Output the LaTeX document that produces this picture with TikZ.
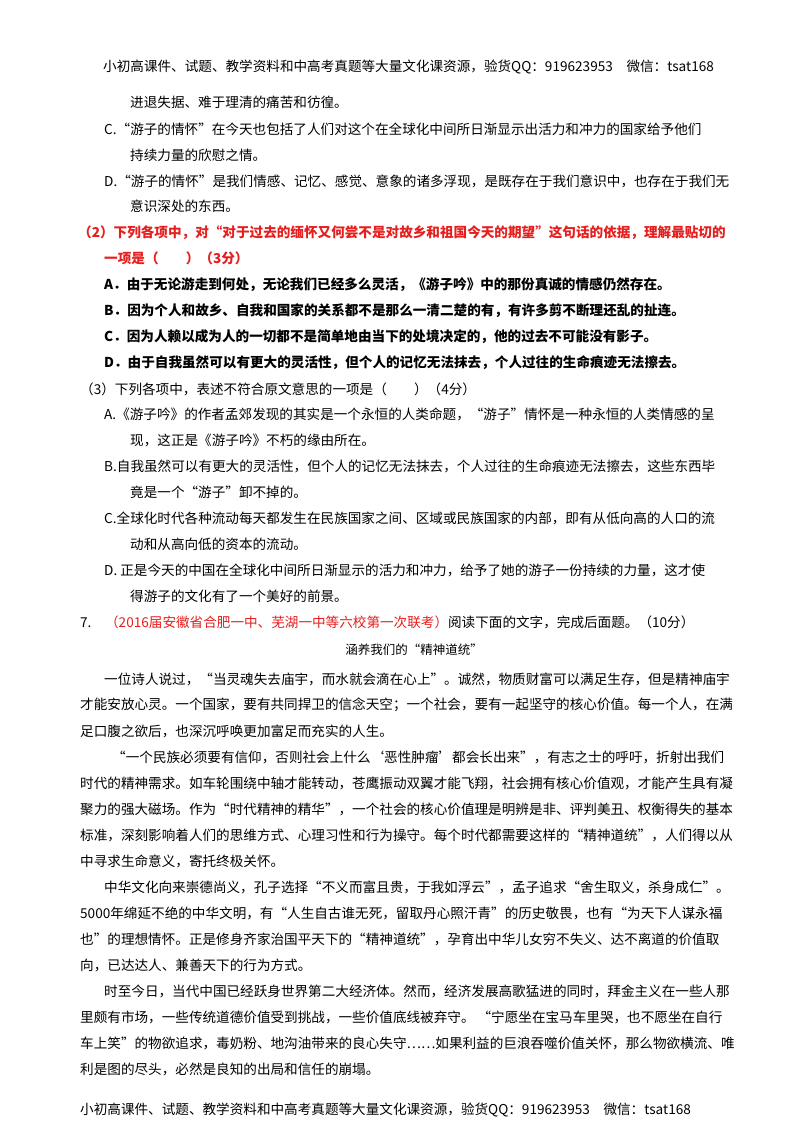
\documentclass[tikz,border=0pt]{standalone}
\usepackage{fontspec}
\setmainfont{Noto Sans CJK SC}
\definecolor{qred}{RGB}{230,30,30}
\begin{document}
\begin{tikzpicture}[x=1pt,y=-1pt,
  ln/.style={anchor=west,inner sep=0pt,font=\fontsize{13.6}{14}\selectfont},
  rl/.style={ln,text=qred,font=\fontsize{13.6}{14}\selectfont\bfseries},
  bl/.style={ln,font=\fontsize{13.6}{14}\selectfont\bfseries}]
\fill[white] (0,0) rectangle (800,1132);
\node[ln] (h) at (103,67) {小初高课件、试题、教学资料和中高考真题等大量文化课资源，验货QQ：919623953\quad 微信：tsat168};
\node[ln] (l1) at (130,102) {进退失据、难于理清的痛苦和彷徨。};
\node[ln] (l2) at (104,129) {C.“游子的情怀”在今天也包括了人们对这个在全球化中间所日渐显示出活力和冲力的国家给予他们};
\node[ln] (l3) at (130,155) {持续力量的欣慰之情。};
\node[ln] (l4) at (104,181) {D.“游子的情怀”是我们情感、记忆、感觉、意象的诸多浮现，是既存在于我们意识中，也存在于我们无};
\node[ln] (l5) at (130,206) {意识深处的东西。};
\node[rl] (l6) at (78,233) {（2）下列各项中，对“对于过去的缅怀又何尝不是对故乡和祖国今天的期望”这句话的依据，理解最贴切的};
\node[rl] (l7) at (104,258) {一项是（\quad\quad）（3分）};
\node[bl] (l8) at (104,285) {A．由于无论游走到何处，无论我们已经多么灵活，《游子吟》中的那份真诚的情感仍然存在。};
\node[bl] (l9) at (104,311) {B．因为个人和故乡、自我和国家的关系都不是那么一清二楚的有，有许多剪不断理还乱的扯连。};
\node[bl] (l10) at (104,337) {C．因为人赖以成为人的一切都不是简单地由当下的处境决定的，他的过去不可能没有影子。};
\node[bl] (l11) at (104,363) {D．由于自我虽然可以有更大的灵活性，但个人的记忆无法抹去，个人过往的生命痕迹无法擦去。};
\node[ln] (l12) at (80,389) {（3）下列各项中，表述不符合原文意思的一项是（\quad\quad）（4分）};
\node[ln] (l13) at (104,414) {A.《游子吟》的作者孟郊发现的其实是一个永恒的人类命题，“游子”情怀是一种永恒的人类情感的呈};
\node[ln] (l14) at (130,440) {现，这正是《游子吟》不朽的缘由所在。};
\node[ln] (l15) at (104,466) {B.自我虽然可以有更大的灵活性，但个人的记忆无法抹去，个人过往的生命痕迹无法擦去，这些东西毕};
\node[ln] (l16) at (130,492) {竟是一个“游子”卸不掉的。};
\node[ln] (l17) at (104,518) {C.全球化时代各种流动每天都发生在民族国家之间、区域或民族国家的内部，即有从低向高的人口的流};
\node[ln] (l18) at (130,544) {动和从高向低的资本的流动。};
\node[ln] (l19) at (104,570) {D. 正是今天的中国在全球化中间所日渐显示的活力和冲力，给予了她的游子一份持续的力量，这才使};
\node[ln] (l20) at (130,596) {得游子的文化有了一个美好的前景。};
\node[ln] (l21) at (80,622) {7.\quad{\color{qred}（2016届安徽省合肥一中、芜湖一中等六校第一次联考）}阅读下面的文字，完成后面题。（10分）};
\node[inner sep=0pt,font=\fontsize{12.5}{13}\selectfont] (t) at (414,650) {涵养我们的“精神道统”};
\node[ln] (p1) at (104,679) {一位诗人说过，“当灵魂失去庙宇，而水就会滴在心上”。诚然，物质财富可以满足生存，但是精神庙宇};
\node[ln] (p2) at (80,705) {才能安放心灵。一个国家，要有共同捍卫的信念天空；一个社会，要有一起坚守的核心价值。每一个人，在满};
\node[ln] (p3) at (80,731) {足口腹之欲后，也深沉呼唤更加富足而充实的人生。};
\node[ln] (p4) at (112,757) {“一个民族必须要有信仰，否则社会上什么‘恶性肿瘤’都会长出来”，有志之士的呼吁，折射出我们};
\node[ln] (p5) at (80,783) {时代的精神需求。如车轮围绕中轴才能转动，苍鹰振动双翼才能飞翔，社会拥有核心价值观，才能产生具有凝};
\node[ln] (p6) at (80,809) {聚力的强大磁场。作为“时代精神的精华”，一个社会的核心价值理是明辨是非、评判美丑、权衡得失的基本};
\node[ln] (p7) at (80,835) {标准，深刻影响着人们的思维方式、心理习性和行为操守。每个时代都需要这样的“精神道统”，人们得以从};
\node[ln] (p8) at (80,861) {中寻求生命意义，寄托终极关怀。};
\node[ln] (p9) at (104,887) {中华文化向来崇德尚义，孔子选择“不义而富且贵，于我如浮云”，孟子追求“舍生取义，杀身成仁”。};
\node[ln] (p10) at (80,913) {5000年绵延不绝的中华文明，有“人生自古谁无死，留取丹心照汗青”的历史敬畏，也有“为天下人谋永福};
\node[ln] (p11) at (80,939) {也”的理想情怀。正是修身齐家治国平天下的“精神道统”，孕育出中华儿女穷不失义、达不离道的价值取};
\node[ln] (p12) at (80,965) {向，已达达人、兼善天下的行为方式。};
\node[ln] (p13) at (104,991) {时至今日，当代中国已经跃身世界第二大经济体。然而，经济发展高歌猛进的同时，拜金主义在一些人那};
\node[ln] (p14) at (80,1017) {里颇有市场，一些传统道德价值受到挑战，一些价值底线被弃守。\ “宁愿坐在宝马车里哭，也不愿坐在自行};
\node[ln] (p15) at (80,1043) {车上笑”的物欲追求，毒奶粉、地沟油带来的良心失守……如果利益的巨浪吞噬价值关怀，那么物欲横流、唯};
\node[ln] (p16) at (80,1069) {利是图的尽头，必然是良知的出局和信任的崩塌。};
\node[ln] (f) at (80,1110) {小初高课件、试题、教学资料和中高考真题等大量文化课资源，验货QQ：919623953\quad 微信：tsat168};
\useasboundingbox (0,0) rectangle (800,1132);
\end{tikzpicture}
\end{document}
